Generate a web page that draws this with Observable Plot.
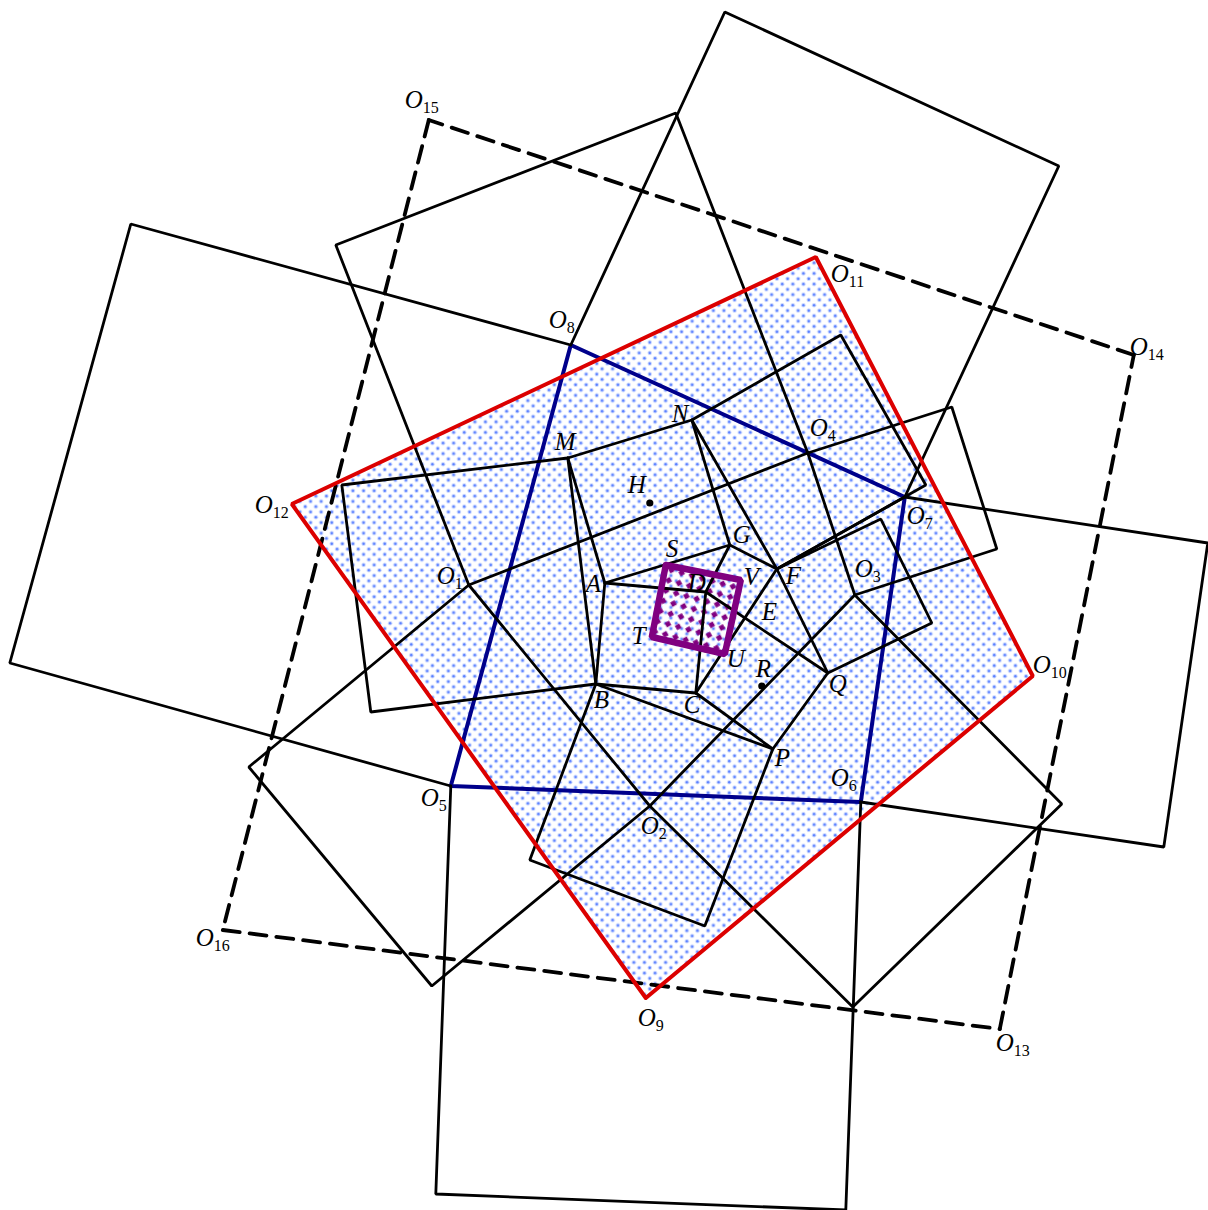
<!DOCTYPE html>
<html>
<head>
<meta charset="utf-8">
<style>html,body{margin:0;padding:0;background:#fff}svg{display:block}</style>
<script src="https://cdn.jsdelivr.net/npm/d3@7"></script>
<script src="https://cdn.jsdelivr.net/npm/@observablehq/plot@0.6"></script>
</head>
<body>
<div id="chart"></div>
<script>
const A=[605,583],B=[596,684],C=[696,693],D=[706,592],F=[777,569],G=[730,545];
const M=[568,458],N=[692,420],P=[773,749],Q=[828,673];
const O1=[469,585],O2=[650,806],O3=[855,595],O4=[808,453];
const O5=[451,786],O6=[861,802],O7=[905,497],O8=[571,345];
const O9=[646,998],O10=[1033,676],O11=[816,257],O12=[292,504];
const O13=[1000,1029],O14=[1134,355],O15=[429,120],O16=[223,930];

const redSquare=[O9,O10,O11,O12,O9];
const blueSquare=[O5,O6,O7,O8,O5];
const dashedEdges=[[O13,O14],[O14,O15],[O15,O16],[O16,O13]];
const purpleSquare=[[666,565],[741,580],[725,654],[652,637],[666,565]];

const blackPaths=[
  [M,[342,485],[371,712],B],
  [B,[530,860],[705,926],P],
  [Q,[932,623],[881,519],F],
  [N,[841,335],[926,485],F],
  [O1,[249,767],[432,986],O2],
  [O2,[853,1007],[1062,804],O3],
  [O3,[997,549],[952,407],O4],
  [O4,O1,[336,245],[676,113],O4],
  [O1,O2,O3,O4],
  [O5,[436,1194],[846,1210],O6],
  [O6,[1164,847],[1208,543],O7],
  [O7,[1059,166],[725,12],O8],
  [O8,[131,224],[10,663],O5],
  [A,B,C,D,A],
  [A,G,F,C],
  [G,D,Q],
  [M,N,G],
  [N,F,Q,P,C],
  [M,A],[M,B],[B,P],[F,O7],
  [[700,650],[725,655]]
];

const letterNames=["A","B","C","D","E","F","G","H","M","N","P","Q","R","S","T","U","V"];
const letterX=[586,594,684,688,762,786,733,628,555,672,775,829,756,666,632,727,744];
const letterY=[592,708,713,591,620,584,543,493,450,422,766,692,677,557,644,667,585];

const centreNames=["O","O","O","O","O","O","O","O","O","O","O","O","O","O","O","O"];
const centreSubs=["1","2","3","4","5","6","7","8","9","10","11","12","13","14","15","16"];
const centreX=[437,641,855,810,421,831,907,549,638,1033,831,255,996,1130,405,196];
const centreY=[584,834,577,436,806,786,524,328,1026,673,282,513,1051,355,108,946];

const dotPoints=[[650,503],[762,686]];

const defs=()=>{
  const d=d3.create("svg:defs");
  const p=d.append("pattern").attr("id","blueDots").attr("patternUnits","userSpaceOnUse")
    .attr("width",10.6).attr("height",10.6);
  [[2.65,2.65],[7.95,7.95]].forEach(([x,y])=>{
    p.append("circle").attr("cx",x).attr("cy",y).attr("r",2.2).attr("fill","#c6d4ff");
    p.append("circle").attr("cx",x).attr("cy",y).attr("r",1.2).attr("fill","#5a80ff");
  });
  const q=d.append("pattern").attr("id","purpleDots").attr("patternUnits","userSpaceOnUse")
    .attr("width",15).attr("height",15).attr("patternTransform","rotate(60)");
  [[3.75,3.75],[11.25,11.25]].forEach(([x,y])=>{
    q.append("rect").attr("x",x-2.5).attr("y",y-2.5).attr("width",5).attr("height",5).attr("fill","#800080");
  });
  return d.node();
};

const serif="'Liberation Serif','Times New Roman',serif";
const line=(pts,o)=>Plot.line(pts,{x:d=>d[0],y:d=>d[1],...o});

const chart=Plot.plot({
  width:1208,height:1210,margin:0,
  x:{domain:[0,1208],range:[-0.7,1207.3],axis:null},
  y:{domain:[0,1210],range:[-0.5,1209.5],axis:null},
  marks:[
    defs,
    line(redSquare,{fill:"url(#blueDots)",stroke:"none"}),
    line(purpleSquare,{fill:"url(#purpleDots)",stroke:"none"}),
    line(blueSquare,{stroke:"#00008b",strokeWidth:4,strokeLinejoin:"miter"}),
    ...blackPaths.map(p=>line(p,{stroke:"#000",strokeWidth:2.8,strokeLinejoin:"miter",strokeLinecap:"round"})),
    ...dashedEdges.map(p=>line(p,{stroke:"#000",strokeWidth:3.8,strokeDasharray:"17 10"})),
    line(redSquare,{stroke:"#dc0000",strokeWidth:4,strokeLinejoin:"miter"}),
    line(purpleSquare,{stroke:"#800080",strokeWidth:6.5,strokeLinejoin:"miter"}),
    Plot.dot(dotPoints,{x:d=>d[0],y:d=>d[1],r:3.6,fill:"#000",stroke:"none"}),
    Plot.text(letterNames,{x:(d,i)=>letterX[i],y:(d,i)=>letterY[i],text:d=>d,textAnchor:"start",lineAnchor:"bottom",
      fontFamily:serif,fontStyle:"italic",fontSize:25,fill:"#000"}),
    Plot.text(centreNames,{x:(d,i)=>centreX[i],y:(d,i)=>centreY[i],text:d=>d,textAnchor:"start",lineAnchor:"bottom",
      fontFamily:serif,fontStyle:"italic",fontSize:25,fill:"#000"}),
    Plot.text(centreSubs,{x:(d,i)=>centreX[i],y:(d,i)=>centreY[i],text:d=>d,dx:18,dy:5,textAnchor:"start",lineAnchor:"bottom",
      fontFamily:serif,fontSize:16,fill:"#000"})
  ]
});
document.getElementById("chart").append(chart);
</script>
</body>
</html>
